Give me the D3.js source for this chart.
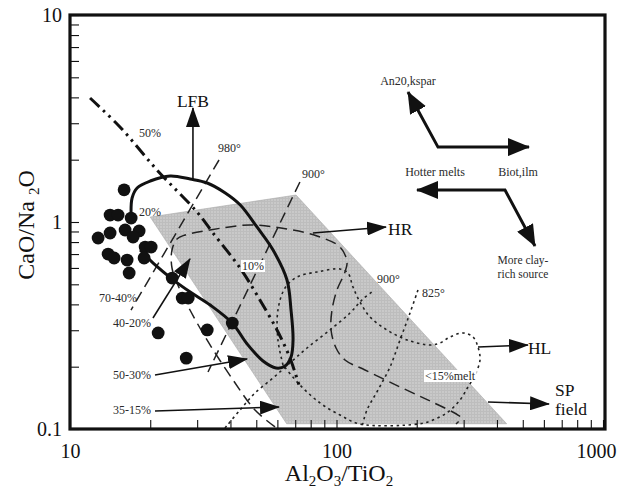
<!DOCTYPE html>
<html>
<head>
<meta charset="utf-8">
<script src="https://cdnjs.cloudflare.com/ajax/libs/d3/7.8.5/d3.min.js"></script>
<style>
    body { margin: 0; background: #fff; }
    svg { display: block; }
    text { font-family: "Liberation Serif", "Times New Roman", serif; }
</style>
</head>
<body>
<div id="chart"></div>
<script>
// sample points (Al2O3/TiO2, CaO/Na2O)
const sampleX = [15.96, 14.14, 15.15, 16.96, 12.75, 14.14, 16.1, 18.17, 17.25, 19.14, 20.16, 13.9, 14.64, 16.38, 18.97, 16.67, 24.18, 26.37, 27.77, 21.42, 32.73, 27.3, 40.64];
const sampleY = [1.43, 1.08, 1.08, 1.045, 0.837, 0.885, 0.915, 0.905, 0.846, 0.757, 0.757, 0.70, 0.67, 0.655, 0.67, 0.567, 0.536, 0.429, 0.429, 0.291, 0.301, 0.22, 0.325];

// SP field (grey)
const fieldX = [20, 70.5, 435, 65];
const fieldY = [1.057, 1.35, 0.106, 0.106];

// LFB field (thick solid)
const solidX = [16.96, 17.1, 17.86, 20.0, 23.76, 28.25, 32.73, 38.25, 43.55, 50.3, 57.8, 65.2, 67.5, 68.7, 67.5, 64.1, 59.3, 53.0, 46.2, 40.6, 33.6, 28.25, 24.18, 20.87, 18.33];
const solidY = [1.045, 1.306, 1.46, 1.578, 1.668, 1.613, 1.543, 1.381, 1.208, 0.946, 0.732, 0.5245, 0.3757, 0.2692, 0.2228, 0.2015, 0.1971, 0.2130, 0.2574, 0.325, 0.397, 0.459, 0.530, 0.620, 0.732];

// melting trend (dash-dot-dot)
const dashDotX = [11.89, 15.40, 21.21, 29.96, 34.4, 43.45, 50.3, 59.8, 66.9, 72.3];
const dashDotY = [3.972, 2.877, 1.783, 1.118, 0.885, 0.5995, 0.4441, 0.3008, 0.2203, 0.1632];

// isotherms
const iso980X = [36.24, 16.94];
const iso980Y = [1.993, 0.3757];
const iso900X = [72.9, 32.95];
const iso900Y = [1.561, 0.1886];
const iso825X = [202.2, 188.7, 173.1, 158.8, 143.1, 130.1, 124.6];
const iso825Y = [0.4694, 0.3634, 0.2692, 0.1993, 0.1543, 0.1235, 0.1023];

// HR field (long dash)
const hrX = [58.8, 49.45, 40.9, 32.67, 28.2, 25.87, 24.14, 24.14, 25.2, 27.01, 33.5, 47.4, 65.2, 84.5, 103.1, 109.5, 107.6, 100.4, 96.2, 95.4, 99.6, 107.6, 127.9, 173.1, 224.3, 285.7, 293.2, 280.8];
const hrY = [0.1023, 0.1235, 0.1725, 0.2692, 0.3757, 0.4694, 0.5995, 0.7325, 0.8275, 0.8653, 0.915, 0.967, 0.925, 0.856, 0.757, 0.641, 0.5735, 0.4694, 0.3757, 0.3008, 0.2462, 0.2154, 0.1928, 0.1596, 0.1366, 0.1168, 0.1130, 0.1057];

// HL field (dotted loop)
const hlX = [63.0, 60.3, 60.3, 64.1, 71.1, 84.5, 103.1, 110.4, 115.3, 122.5, 133.6, 154.7, 183.9, 224.3, 244.5, 266.7, 298.4, 325.2, 339.6, 345.5, 330.9, 311.5, 290.7, 262.0, 230.1, 202.2, 122.5, 103.1, 86.7, 72.9, 63.0];
const hlY = [0.2038, 0.2692, 0.3757, 0.4800, 0.5424, 0.5735, 0.5929, 0.5671, 0.4853, 0.4107, 0.3476, 0.3008, 0.2692, 0.2545, 0.2602, 0.2782, 0.2909, 0.2782, 0.2489, 0.2154, 0.1823, 0.1596, 0.1381, 0.1208, 0.1105, 0.1057, 0.1057, 0.1168, 0.1336, 0.1632, 0.2038];

// dotted 900 line
const dotAX = [38.15, 43.45, 49.45, 57.8, 66.9, 77.5, 94.5, 112.4, 124.6, 137.1];
const dotAY = [0.1011, 0.1235, 0.1492, 0.1764, 0.2084, 0.2462, 0.3008, 0.3634, 0.4201, 0.4642];

// thin arrows
const arrowStartX = [28.93, 81.6, 339.6, 370.3, 20.84, 20.84, 20.48];
const arrowStartY = [1.596, 0.885, 0.2489, 0.1351, 0.1823, 0.1222, 0.3438];
const arrowEndX = [28.93, 153.4, 523.0, 627.2, 46.2, 60.84, 28.2];
const arrowEndY = [3.553, 0.946, 0.2545, 0.1321, 0.218, 0.1277, 0.663];

// trend arrows (top right)
const trendAX = [185.5, 240.4, 527.6];
const trendAY = [4.246, 2.30, 2.30];
const trendBX = [200.5, 428.8, 555.6];
const trendBY = [1.428, 1.428, 0.766];

// annotations
const labelText = ["50%", "980°", "900°", "20%", "10%", "70-40%", "40-20%", "50-30%", "35-15%", "900°", "825°", "<15%melt",
    "An20,kspar", "Hotter melts", "Biot,ilm", "More clay-", "rich source", "LFB", "HR", "HL", "SP", "field"];
const labelX = [19.96, 35.93, 74.2, 19.96, 48.6, 17.84, 20.13, 20.13, 20.13, 141.9, 209.3, 214.8,
    185.5, 234.2, 479.8, 501, 501, 28.93, 156.1, 523, 660.5, 660.5];
const labelY = [2.574, 2.179, 1.632, 1.069, 0.5862, 0.4107, 0.311, 0.1744, 0.1182, 0.5074, 0.4342, 0.1725,
    4.589, 1.668, 1.668, 0.627, 0.5335, 3.594, 0.8653, 0.2303, 0.1440, 0.1168];

const xTickLabels = [10, 100, 1000];
const yTickLabels = [0.1, 1, 10];

const width = 621, height = 493;

const svg = d3.select("#chart").append("svg")
    .attr("width", width)
    .attr("height", height);

const x = d3.scaleLog().domain([10, 1000]).range([70, 603]);
const y = d3.scaleLog().domain([0.1, 10]).range([429, 15]);

const line = d3.line()
    .x(d => x(d[0]))
    .y(d => y(d[1]))
    .curve(d3.curveCatmullRom.alpha(0.5));
const straight = d3.line()
    .x(d => x(d[0]))
    .y(d => y(d[1]));

const defs = svg.append("defs");

// arrow heads
function head(id, len, w) {
    defs.append("marker")
        .attr("id", id)
        .attr("markerUnits", "userSpaceOnUse")
        .attr("markerWidth", len)
        .attr("markerHeight", w)
        .attr("refX", len - 1)
        .attr("refY", w / 2)
        .attr("orient", "auto-start-reverse")
        .append("path")
        .attr("d", `M0,0L${len},${w / 2}L0,${w}Z`)
        .attr("fill", "#111");
}
head("thin", 20, 14);
head("thick", 22, 18);

// fine screen texture for the grey field
const pat = defs.append("pattern")
    .attr("id", "screen")
    .attr("patternUnits", "userSpaceOnUse")
    .attr("width", 3).attr("height", 3);
pat.append("rect").attr("width", 3).attr("height", 3).attr("fill", "#c9c9c9");
pat.append("rect").attr("width", 3).attr("height", 1).attr("fill", "#bdbdbd");
pat.append("rect").attr("width", 1).attr("height", 3).attr("fill", "#bdbdbd");

// grey SP field
svg.append("path")
    .attr("d", straight(d3.zip(fieldX, fieldY)) + "Z")
    .attr("fill", "url(#screen)")
    .attr("stroke", "#aaa")
    .attr("stroke-width", 0.6);

// dotted lines
[[hlX, hlY], [dotAX, dotAY], [iso825X, iso825Y]].forEach(function (s) {
    svg.append("path")
        .attr("d", line(d3.zip(s[0], s[1])))
        .attr("fill", "none").attr("stroke", "#222")
        .attr("stroke-width", 1.6).attr("stroke-dasharray", "2.5,3.5");
});

// long dash lines
[[iso980X, iso980Y], [iso900X, iso900Y], [hrX, hrY]].forEach(function (s) {
    svg.append("path")
        .attr("d", line(d3.zip(s[0], s[1])))
        .attr("fill", "none").attr("stroke", "#222")
        .attr("stroke-width", 1.5).attr("stroke-dasharray", "11,6");
});

// dash-dot-dot trend
svg.append("path")
    .attr("d", line(d3.zip(dashDotX, dashDotY)))
    .attr("fill", "none").attr("stroke", "#111")
    .attr("stroke-width", 3).attr("stroke-dasharray", "13,5,2.5,5,2.5,5");

// thick solid field
svg.append("path")
    .attr("d", line(d3.zip(solidX, solidY)))
    .attr("fill", "none").attr("stroke", "#111")
    .attr("stroke-width", 3);

// samples
svg.selectAll(".sample")
    .data(d3.zip(sampleX, sampleY))
    .enter().append("circle")
    .attr("class", "sample")
    .attr("cx", d => x(d[0]))
    .attr("cy", d => y(d[1]))
    .attr("r", 6.4)
    .attr("fill", "#111");

// thin arrows
arrowStartX.forEach(function (d, i) {
    svg.append("path")
        .attr("d", straight([[arrowStartX[i], arrowStartY[i]], [arrowEndX[i], arrowEndY[i]]]))
        .attr("stroke", "#111").attr("stroke-width", 1.6)
        .attr("marker-end", "url(#thin)");
});

// trend arrows
[[trendAX, trendAY], [trendBX, trendBY]].forEach(function (s) {
    svg.append("path")
        .attr("d", straight(d3.zip(s[0], s[1])))
        .attr("fill", "none")
        .attr("stroke", "#111").attr("stroke-width", 3)
        .attr("marker-start", "url(#thick)")
        .attr("marker-end", "url(#thick)");
});

// labels
const bigLabels = ["LFB", "HR", "HL", "SP", "field"];
const endLabels = ["70-40%", "40-20%", "50-30%", "35-15%"];
const midLabels = ["50%", "20%", "10%", "An20,kspar", "Hotter melts", "Biot,ilm", "More clay-", "rich source", "LFB"];
const boxed = ["10%", "<15%melt"];

labelText.forEach(function (t, i) {
    let g = svg.append("g");
    let txt = g.append("text")
        .attr("x", x(labelX[i]))
        .attr("y", y(labelY[i]))
        .attr("font-size", bigLabels.includes(t) ? 17.5 : (t === "More clay-" || t === "rich source") ? 11.5 : 12)
        .attr("fill", bigLabels.includes(t) ? "#111" : "#2a2a2a")
        .attr("text-anchor", endLabels.includes(t) ? "end" : midLabels.includes(t) ? "middle" : "start")
        .text(t);
    if (boxed.includes(t)) {
        let bb = txt.node().getBBox();
        g.insert("rect", "text")
            .attr("x", bb.x - 1).attr("y", bb.y + 1)
            .attr("width", bb.width + 2).attr("height", bb.height - 2)
            .attr("fill", "#fff");
    }
});

// axes
const xAxis = d3.axisBottom(x)
    .tickSize(-9)
    .tickPadding(15)
    .tickFormat(d => xTickLabels.some(v => Math.abs(v - d) < 1e-6) ? d : "");
const yAxis = d3.axisLeft(y)
    .tickSize(-9)
    .tickPadding(8)
    .tickFormat(d => yTickLabels.some(v => Math.abs(v - d) < 1e-9) ? d3.format("~g")(d) : "");

const gx = svg.append("g")
    .attr("transform", `translate(0,${y(0.1)})`)
    .call(xAxis);
const gy = svg.append("g")
    .attr("transform", `translate(${x(10)},0)`)
    .call(yAxis);

[gx, gy].forEach(function (g) {
    g.select(".domain").remove();
    g.selectAll(".tick line").attr("stroke", "#111").attr("stroke-width", 1.1);
    g.selectAll(".tick text")
        .attr("font-family", "Liberation Serif, serif")
        .attr("font-size", 20)
        .attr("fill", "#111");
});
// last x label sits inside the page
gx.selectAll(".tick text")
    .filter(d => Math.abs(d - 1000) < 1e-6)
    .attr("text-anchor", "end")
    .attr("x", 13);

// frame
svg.append("rect")
    .attr("x", x(10))
    .attr("y", y(10))
    .attr("width", x(1000) + 2 - x(10))
    .attr("height", y(0.1) - y(10))
    .attr("fill", "none")
    .attr("stroke", "#111")
    .attr("stroke-width", 3.2);

// axis titles
const xt = svg.append("text")
    .attr("x", 339)
    .attr("y", 481)
    .attr("text-anchor", "middle")
    .attr("font-size", 24)
    .attr("fill", "#111");
xt.append("tspan").text("Al");
xt.append("tspan").attr("font-size", 15).attr("dy", 5).text("2");
xt.append("tspan").attr("dy", -5).text("O");
xt.append("tspan").attr("font-size", 15).attr("dy", 5).text("3");
xt.append("tspan").attr("dy", -5).text("/TiO");
xt.append("tspan").attr("font-size", 15).attr("dy", 5).text("2");

const yt = svg.append("text")
    .attr("transform", `translate(34,${y(1) + 3}) rotate(-90)`)
    .attr("text-anchor", "middle")
    .attr("font-size", 24)
    .attr("fill", "#111");
yt.append("tspan").text("CaO/Na ");
yt.append("tspan").attr("font-size", 15).attr("dy", 5).text("2");
yt.append("tspan").attr("dy", -5).text("O");
</script>
</body>
</html>
